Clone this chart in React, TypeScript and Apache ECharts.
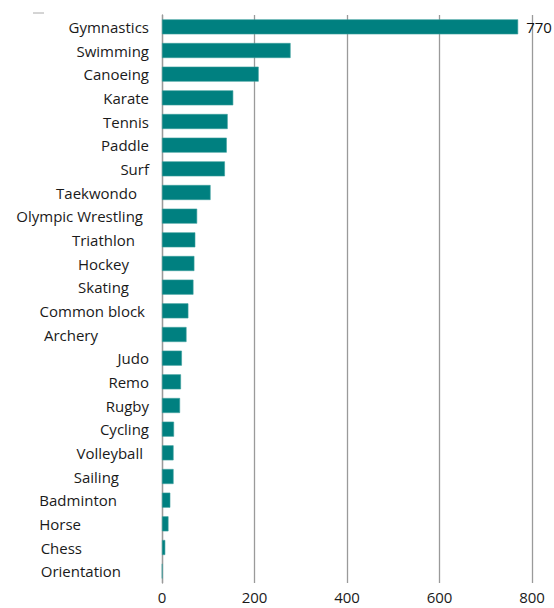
import React, { useEffect, useRef } from "react";
import * as echarts from "echarts";

const sports = [
  "Gymnastics", "Swimming", "Canoeing", "Karate", "Tennis", "Paddle", "Surf",
  "Taekwondo", "Olympic Wrestling", "Triathlon", "Hockey", "Skating",
  "Common block", "Archery", "Judo", "Remo", "Rugby", "Cycling", "Volleyball",
  "Sailing", "Badminton", "Horse", "Chess", "Orientation",
];
const counts = [
  770, 278, 209, 154, 142, 140, 136, 105, 76, 72, 70, 68, 57, 53, 43, 41, 39,
  26, 25, 25, 18, 14, 7, 1,
];
// Extra right padding for the labels that sit off the common right edge
const labelShift = [
  0, 0, 0, 0, 0, 0, 0, 12, 6, 14, 20, 20, 4, 51, 0, 0, 0, 0, 6, 30, 32, 68, 67, 28,
];
const xTicks = [0, 200, 400, 600, 800];
const labelledValue = 770;

const FONT = "Open Sans";

export default function App() {
  const ref = useRef<HTMLDivElement>(null);
  useEffect(() => {
    document.body.style.margin = "0";
    const chart = echarts.init(ref.current!, null, { renderer: "svg" });
    chart.setOption({
      animation: false,
      grid: { left: 162, right: 22, top: 15, bottom: 25, containLabel: false },
      xAxis: {
        type: "value",
        min: xTicks[0],
        max: xTicks[xTicks.length - 1],
        interval: 200,
        axisLine: { show: false },
        axisTick: { show: false },
        axisLabel: {
          margin: 6,
          color: "#1a1a1a",
          fontSize: 15,
          lineHeight: 16,
          fontFamily: FONT,
        },
        splitLine: { show: true, lineStyle: { color: "#9a9a9a", width: 1.3 } },
      },
      yAxis: {
        type: "category",
        inverse: true,
        data: sports.map((s, i) => ({
          value: s,
          textStyle: { padding: [0, labelShift[i], 0, 0] },
        })),
        axisLine: { show: true, lineStyle: { color: "#9a9a9a", width: 1.3 } },
        axisTick: { show: false },
        axisLabel: {
          margin: 13,
          color: "#1a1a1a",
          fontSize: 15,
          fontFamily: FONT,
        },
      },
      series: [
        {
          type: "bar",
          data: counts,
          barWidth: 15,
          itemStyle: { color: "#008080", borderColor: "#3a9e9c", borderWidth: 0.6 },
          label: {
            show: true,
            position: "right",
            distance: 8,
            color: "#111",
            fontSize: 15,
            fontFamily: FONT,
            formatter: (p: any) => (p.value === labelledValue ? String(p.value) : ""),
          },
        },
      ],
      graphic: [
        {
          type: "line",
          shape: { x1: 33, y1: 13, x2: 44, y2: 13 },
          style: { stroke: "#aaa", lineWidth: 1 },
        },
      ],
    });
    return () => chart.dispose();
  }, []);
  return <div ref={ref} style={{ width: 554, height: 608 }} />;
}
